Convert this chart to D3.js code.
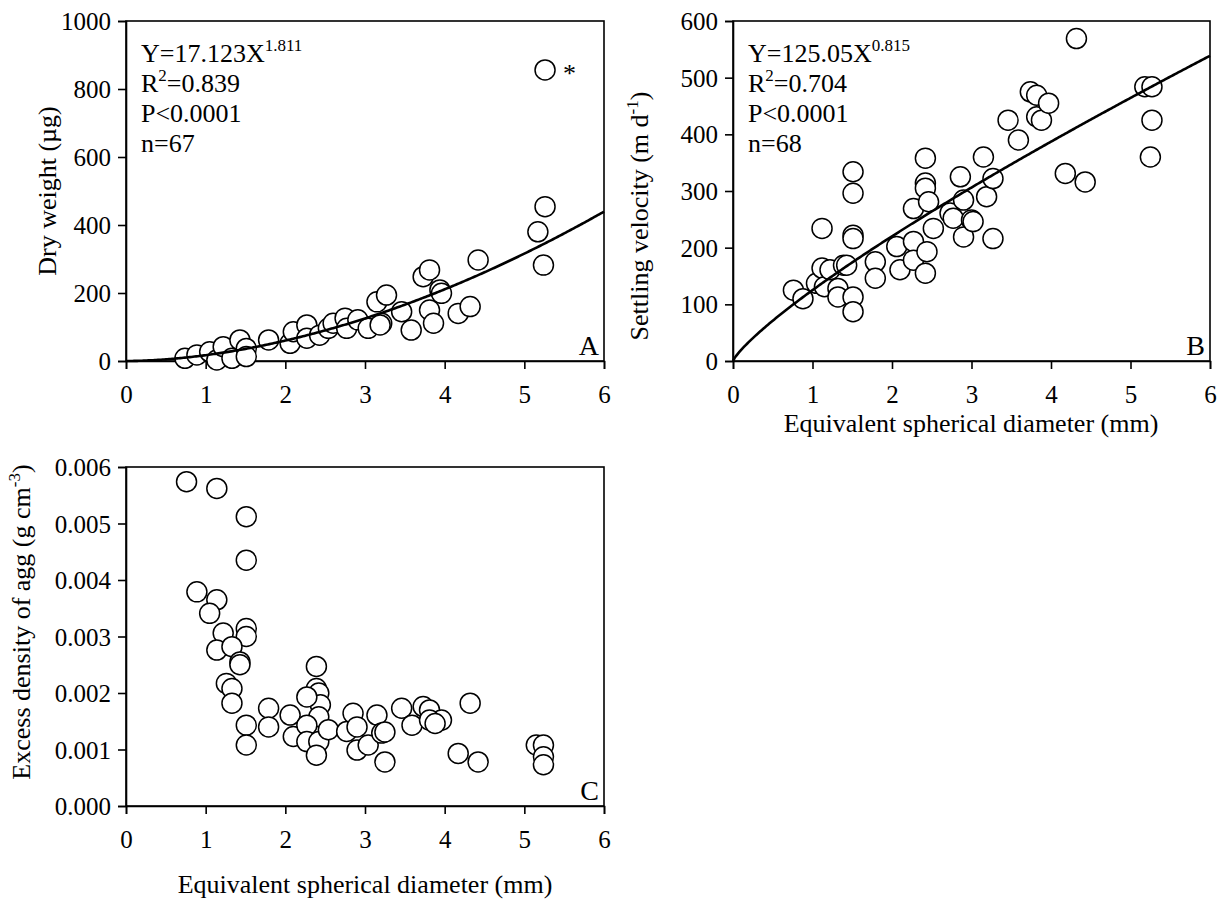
<!DOCTYPE html>
<html><head><meta charset="utf-8">
<script src="https://cdn.jsdelivr.net/npm/d3@7"></script>
<style>body{margin:0;background:#fff}svg{display:block}text{font-family:"Liberation Serif","Times New Roman",serif;fill:#000}</style>
</head><body>
<svg id="c" width="1228" height="909"></svg>
<script>
// ---- Data ----
const xTicks = [0,1,2,3,4,5,6];
const aTicks = [0,200,400,600,800,1000];
const bTicks = [0,100,200,300,400,500,600];
const cTicks = [0,0.001,0.002,0.003,0.004,0.005,0.006];

// Panel A: dry weight (µg) vs ESD (mm)
const aX = [0.74,0.89,1.05,1.14,1.22,1.33,1.43,1.51,1.51,1.79,2.06,2.10,2.27,2.27,2.43,2.54,2.60,2.75,2.77,2.91,3.04,3.15,3.27,3.21,3.19,3.46,3.58,3.73,3.81,3.81,3.86,3.94,3.96,4.17,4.32,4.42,5.17,5.26,5.24,5.26];
const aY = [8,18,27,3,42,8,62,37,13,62,52,86,106,67,76,96,111,126,96,121,96,174,194,111,106,145,91,248,268,150,111,209,199,140,160,297,380,454,282,856];
const aFit = {a:17.123, b:1.811};

// Panel B: settling velocity (m/d) vs ESD (mm)
const bX = [0.76,0.88,1.05,1.12,1.12,1.15,1.22,1.32,1.32,1.39,1.43,1.51,1.51,1.51,1.51,1.51,1.51,1.79,1.79,2.06,2.10,2.27,2.27,2.27,2.42,2.42,2.42,2.46,2.44,2.42,2.52,2.73,2.77,2.86,2.90,2.90,3.00,3.02,3.15,3.19,3.27,3.27,3.46,3.59,3.74,3.82,3.82,3.88,3.97,4.18,4.32,4.43,5.18,5.27,5.27,5.25];
const bY = [125,110,137,164,234,131,161,128,113,169,169,334,296,222,216,113,87,175,146,202,161,211,178,269,358,314,305,281,193,155,234,261,252,325,284,219,249,246,360,290,322,216,425,390,475,469,431,425,455,331,569,316,484,484,425,360];
const bFit = {a:125.05, b:0.815};

// Panel C: excess density (g cm-3) vs ESD (mm)
const cX = [0.76,1.14,1.51,1.51,0.89,1.14,1.05,1.22,1.51,1.51,1.14,1.33,1.43,1.43,1.26,1.33,1.33,1.51,1.51,1.79,1.79,2.06,2.10,2.39,2.39,2.42,2.44,2.42,2.27,2.27,2.27,2.42,2.39,2.54,2.77,2.85,2.90,2.90,3.04,3.15,3.21,3.25,3.25,3.46,3.59,3.73,3.81,3.96,3.81,3.88,4.32,4.17,4.42,5.15,5.24,5.24,5.24];
const cY = [0.00574,0.00562,0.00512,0.00435,0.00379,0.00365,0.00341,0.00306,0.00314,0.00300,0.00276,0.00282,0.00255,0.00250,0.00217,0.00208,0.00182,0.00143,0.00108,0.00173,0.00140,0.00161,0.00123,0.00247,0.00208,0.00200,0.00179,0.00158,0.00193,0.00143,0.00114,0.00114,0.00090,0.00135,0.00132,0.00164,0.00140,0.00099,0.00108,0.00161,0.00129,0.00131,0.00078,0.00173,0.00143,0.00176,0.00170,0.00152,0.00152,0.00146,0.00182,0.00093,0.00078,0.00108,0.00108,0.00087,0.00073];

const svg = d3.select("#c");
const TICK_FS = 25, TITLE_FS = 26, ANN_FS = 26, SUP_FS = 17;

function panel(o){
  const x = d3.scaleLinear().domain([0,6]).range([o.l,o.r]);
  const y = d3.scaleLinear().domain(o.yd).range([o.b,o.t]);
  const g = svg.append("g");
  g.append("rect").attr("x",o.l).attr("y",o.t).attr("width",o.r-o.l).attr("height",o.b-o.t)
    .attr("fill","none").attr("stroke","#000").attr("stroke-width",1.6);
  const xa = g.append("g").attr("transform",`translate(0,${o.b})`)
    .call(d3.axisBottom(x).tickValues(xTicks).tickSize(8).tickPadding(10).tickFormat(d3.format("d")));
  const ya = g.append("g").attr("transform",`translate(${o.l},0)`)
    .call(d3.axisLeft(y).tickValues(o.yt).tickSize(8).tickPadding(7).tickFormat(o.fmt));
  [xa,ya].forEach(a=>{
    a.select(".domain").attr("stroke","#000").attr("stroke-width",1.6);
    a.selectAll(".tick line").attr("stroke","#000").attr("stroke-width",1.6);
    a.selectAll("text").style("font-family",'"Liberation Serif",serif').style("font-size",TICK_FS+"px").attr("fill","#000");
  });
  xa.selectAll("text").attr("dy","0.95em");
  ya.selectAll("text").attr("dy","0.34em");
  const pts = d3.range(Math.min(o.xs.length,o.ys.length)).map(i=>[o.xs[i],o.ys[i]]);
  g.append("g").selectAll("circle").data(pts).join("circle")
    .attr("cx",d=>x(d[0])).attr("cy",d=>y(d[1])).attr("r",10)
    .attr("fill","#fff").attr("stroke","#000").attr("stroke-width",1.5);
  if(o.fit){
    const xs = d3.range(0,6.0001,0.02);
    g.append("path").datum(xs)
      .attr("d",d3.line().x(d=>x(d)).y(d=>y(o.fit.a*Math.pow(d,o.fit.b))))
      .attr("fill","none").attr("stroke","#000").attr("stroke-width",2.6);
  }
  g.append("text").attr("x",o.r-5).attr("y",o.b-6).attr("text-anchor","end")
    .style("font-size","28px").text(o.letter);
  return {x,y,g};
}

// segments: {t:"text"} normal, {sup:"text"} superscript
function richText(t, segs, raise){
  let raised = false;
  segs.forEach(seg=>{
    if(seg.sup){
      t.append("tspan").attr("dy",-raise).style("font-size",SUP_FS+"px").text(seg.sup);
      raised = true;
    } else {
      const sp = t.append("tspan").text(seg.t);
      if(raised){ sp.attr("dy",raise); raised = false; }
    }
  });
}

function annot(g, x0, y0, lines){
  lines.forEach((ln,i)=>{
    const t = g.append("text").attr("x",x0).attr("y",y0+i*30).style("font-size",ANN_FS+"px");
    richText(t, ln, 11);
  });
}

function ytitle(x0, yc, segs){
  const t = svg.append("text").attr("transform",`translate(${x0},${yc}) rotate(-90)`)
    .attr("text-anchor","middle").style("font-size",TITLE_FS+"px");
  richText(t, segs, 10);
}

// Panel A
const A = panel({l:126,r:604,t:21,b:361,yd:[0,1000],yt:aTicks,fmt:d3.format("d"),xs:aX,ys:aY,fit:aFit,letter:"A"});
annot(A.g,141,62,[[{t:"Y=17.123X"},{sup:"1.811"}],[{t:"R"},{sup:"2"},{t:"=0.839"}],[{t:"P<0.0001"}],[{t:"n=67"}]]);
A.g.append("text").attr("x",A.x(5.26)+18).attr("y",A.y(856)+12).style("font-size","26px").text("*");
ytitle(56,191,[{t:"Dry weight (µg)"}]);

// Panel B
const B = panel({l:733,r:1210,t:21,b:361,yd:[0,600],yt:bTicks,fmt:d3.format("d"),xs:bX,ys:bY,fit:bFit,letter:"B"});
annot(B.g,748,62,[[{t:"Y=125.05X"},{sup:"0.815"}],[{t:"R"},{sup:"2"},{t:"=0.704"}],[{t:"P<0.0001"}],[{t:"n=68"}]]);
ytitle(648,216,[{t:"Settling velocity (m d"},{sup:"-1"},{t:")"}]);
svg.append("text").attr("x",971).attr("y",432).attr("text-anchor","middle").style("font-size",TITLE_FS+"px")
  .text("Equivalent spherical diameter (mm)");

// Panel C
const C = panel({l:126,r:604,t:467,b:806,yd:[0,0.006],yt:cTicks,fmt:d3.format(".3f"),xs:cX,ys:cY,fit:null,letter:"C"});
ytitle(30,622,[{t:"Excess density of agg (g cm"},{sup:"-3"},{t:")"}]);
svg.append("text").attr("x",365).attr("y",893).attr("text-anchor","middle").style("font-size",TITLE_FS+"px")
  .text("Equivalent spherical diameter (mm)");
</script>
</body></html>
